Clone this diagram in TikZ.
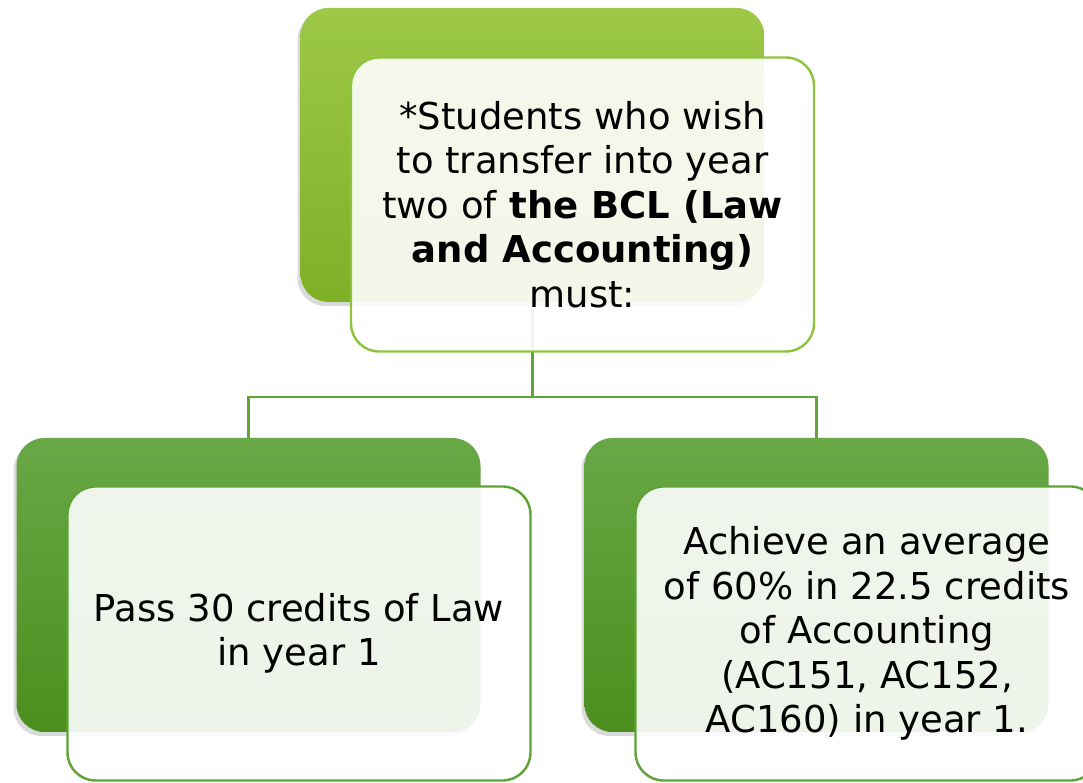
\documentclass[tikz,border=0pt]{standalone}
\usepackage{fontspec}
\setmainfont{DejaVu Sans}
\usetikzlibrary{shadows}
\definecolor{topA}{RGB}{157,200,72}
\definecolor{topB}{RGB}{126,176,38}
\definecolor{topEdge}{RGB}{141,196,62}
\definecolor{botA}{RGB}{104,168,70}
\definecolor{botB}{RGB}{76,142,30}
\definecolor{botEdge}{RGB}{94,163,52}
\definecolor{linkgreen}{RGB}{96,165,52}
\begin{document}
\begin{tikzpicture}[x=1pt,y=1pt,
  backbox/.style={rounded corners=28pt, minimum width=464pt, minimum height=294pt, inner sep=0pt,
    drop shadow={shadow xshift=-3pt,shadow yshift=-4pt,opacity=0.3}},
  frontbox/.style={rounded corners=28pt, minimum width=463pt, minimum height=294pt, inner sep=0pt,
    fill=white, fill opacity=0.9, text opacity=1, line width=2.4pt, align=center,
    font=\fontsize{37}{44.5}\selectfont},
  link/.style={draw=linkgreen, line width=2.2pt}]
\useasboundingbox (0,0) rectangle (1083,783);
\clip (0,0) rectangle (1083,783);
% back boxes
\node[backbox, top color=topA, bottom color=topB] (tb) at (532.5,628) {};
\node[backbox, top color=botA, bottom color=botB] (lb) at (248.5,198) {};
\node[backbox, top color=botA, bottom color=botB] (rb) at (816.5,198) {};
% connectors
\draw[link] (tb.south) -- ++(0,-95) -| (lb.north);
\draw[link] (tb.south) -- ++(0,-95) -| (rb.north);
% front boxes
\node[frontbox, draw=topEdge] (tf) at (582.5,578.5)
  {*Students who wish\\to transfer into year\\two of \textbf{the BCL (Law}\\\textbf{and Accounting)}\\must:};
\node[frontbox, draw=botEdge] (lf) at (299,149.5)
  {Pass 30 credits of Law\\in year 1};
\node[frontbox, draw=botEdge] (rf) at (867,149.5)
  {Achieve an average\\of 60\% in 22.5 credits\\of Accounting\\(AC151, AC152,\\AC160) in year 1.};
\end{tikzpicture}
\end{document}
